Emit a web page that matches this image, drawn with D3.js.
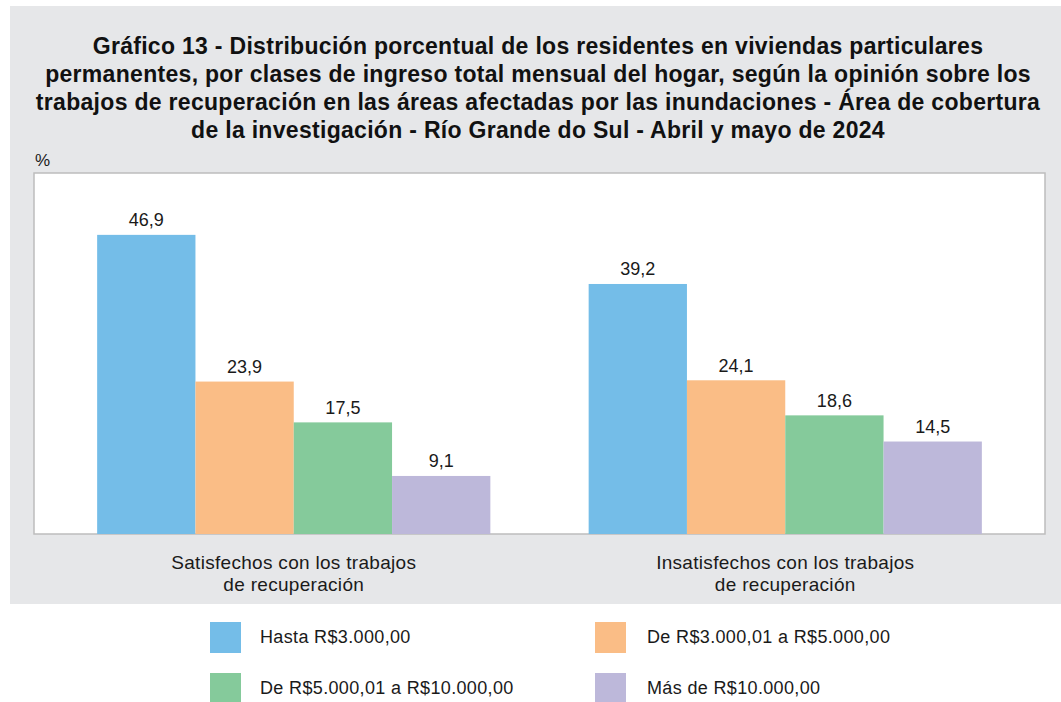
<!DOCTYPE html>
<html>
<head>
<meta charset="utf-8">
<script src="https://cdn.jsdelivr.net/npm/d3@7"></script>
<style>
  body { margin: 0; background: #fff; }
  text { font-family: "Liberation Sans", Arial, sans-serif; fill: #1a1a1a; }
</style>
</head>
<body>
<div id="chart"></div>
<script>
var titleLines = [
  "Gráfico 13 - Distribución porcentual de los residentes en viviendas particulares",
  "permanentes, por clases de ingreso total mensual del hogar, según la opinión sobre los",
  "trabajos de recuperación en las áreas afectadas por las inundaciones - Área de cobertura",
  "de la investigación - Río Grande do Sul - Abril y mayo de 2024"
];
var categories = ["Satisfechos con los trabajos\nde recuperación", "Insatisfechos con los trabajos\nde recuperación"];
var series = ["Hasta R$3.000,00", "De R$3.000,01 a R$5.000,00", "De R$5.000,01 a R$10.000,00", "Más de R$10.000,00"];
var colors = ["#74bde8", "#fabd86", "#85ca9b", "#bdb8da"];
var values = [
  [46.9, 23.9, 17.5, 9.1],
  [39.2, 24.1, 18.6, 14.5]
];

var width = 1061, height = 702;
var svg = d3.select("#chart").append("svg")
  .attr("width", width)
  .attr("height", height);

// grey panel
svg.append("rect")
  .attr("x", 10).attr("y", 6)
  .attr("width", 1051).attr("height", 598)
  .style("fill", "#e6e7e9");

svg.append("g").selectAll("text")
  .data(titleLines)
  .enter().append("text")
  .attr("x", 538)
  .attr("y", function(d, i) { return 54 + i * 28; })
  .attr("text-anchor", "middle")
  .style("font-size", "23px")
  .style("letter-spacing", "0.3px")
  .style("font-weight", "bold")
  .style("fill", "#111")
  .text(function(d) { return d; });

var plot = { left: 34, top: 173, right: 1045, bottom: 534 };

svg.append("text")
  .attr("x", 35).attr("y", 166)
  .style("font-size", "17px")
  .text("%");

svg.append("rect")
  .attr("x", plot.left).attr("y", plot.top)
  .attr("width", plot.right - plot.left).attr("height", plot.bottom - plot.top)
  .style("fill", "#fff")
  .style("stroke", "#bdbdbd")
  .style("stroke-width", 1.5);

var x0 = d3.scaleBand().domain(d3.range(categories.length))
  .range([48, 1031]).paddingInner(0.2).paddingOuter(0.1);
var x1 = d3.scaleBand().domain(d3.range(series.length))
  .range([0, x0.bandwidth()]);
var y = d3.scaleLinear().domain([0, 56.6]).range([plot.bottom, plot.top]);

var groups = svg.append("g").selectAll("g")
  .data(values)
  .enter().append("g")
  .attr("transform", function(d, i) { return "translate(" + x0(i) + ",0)"; });

groups.selectAll("rect")
  .data(function(d) { return d; })
  .enter().append("rect")
  .attr("x", function(d, j) { return x1(j); })
  .attr("y", function(d) { return y(d); })
  .attr("width", x1.bandwidth())
  .attr("height", function(d) { return y(0) - y(d); })
  .style("fill", function(d, j) { return colors[j]; });

groups.selectAll("text")
  .data(function(d) { return d; })
  .enter().append("text")
  .attr("x", function(d, j) { return x1(j) + x1.bandwidth() / 2; })
  .attr("y", function(d) { return y(d) - 8.5; })
  .attr("text-anchor", "middle")
  .style("font-size", "18px")
  .text(function(d) { return d.toFixed(1).replace(".", ","); });

// category labels
var catLabels = svg.append("g").selectAll("text")
  .data(categories)
  .enter().append("text")
  .attr("x", function(d, i) { return x0(i) + x0.bandwidth() / 2; })
  .attr("y", 569)
  .attr("text-anchor", "middle")
  .style("font-size", "19px")
  .style("letter-spacing", "0.3px");
catLabels.selectAll("tspan")
  .data(function(d) { return d.split("\n"); })
  .enter().append("tspan")
  .attr("x", function() { return this.parentNode.getAttribute("x"); })
  .attr("dy", function(d, i) { return i ? 22 : 0; })
  .text(function(d) { return d; });

// legend
var legend = svg.append("g").selectAll("g")
  .data(series)
  .enter().append("g")
  .attr("transform", function(d, i) {
    return "translate(" + (i % 2 ? 595 : 210) + "," + (i < 2 ? 622 : 673) + ")";
  });
legend.append("rect")
  .attr("width", 31).attr("height", 31)
  .style("fill", function(d, i) { return colors[i]; });
legend.append("text")
  .attr("x", function(d, i) { return i % 2 ? 52 : 50; })
  .attr("y", 21)
  .style("font-size", "18px")
  .style("letter-spacing", "0.35px")
  .text(function(d) { return d; });
</script>
</body>
</html>
